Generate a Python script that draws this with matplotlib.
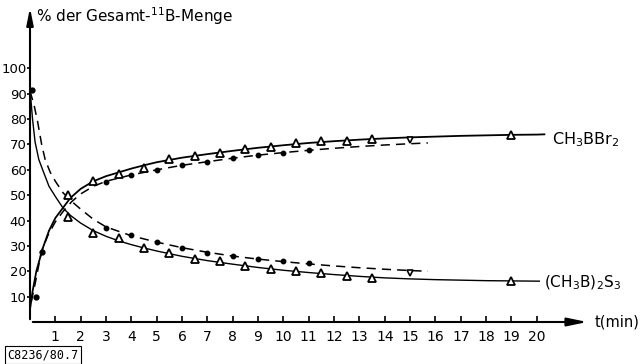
import matplotlib.pyplot as plt

# measured points, CH3BBr2 (rising) and (CH3B)2S3 (falling)
t_tri = [1.5, 2.5, 3.5, 4.5, 5.5, 6.5, 7.5, 8.5, 9.5, 10.5, 11.5, 12.5, 13.5, 19.0]
bbr_tri = [50.1, 55.7, 58.4, 60.9, 64.2, 65.5, 66.5, 68.1, 69.2, 70.5, 71.4, 71.2, 72.1, 73.8]
s3_tri = [41.5, 35.2, 33.0, 29.1, 27.3, 24.8, 24.0, 22.2, 20.9, 20.1, 19.2, 18.1, 17.5, 16.2]

t_dot = [3, 4, 5, 6, 7, 8, 9, 10, 11]
bbr_dot = [55.4, 58.0, 60.0, 61.9, 63.2, 64.6, 65.9, 66.5, 67.7]
s3_dot = [37.0, 34.3, 31.4, 29.3, 27.2, 26.0, 24.7, 24.2, 23.1]

t_extra = [0.07, 0.24, 0.46]
y_extra = [91.5, 10.0, 27.7]
t_inv = [15.0, 15.0]
y_inv = [71.8, 19.2]

# curves as drawn in the figure
t_fit = [0.0, 0.1, 0.25, 0.5, 0.75, 1.0, 1.3, 1.6, 2.0, 2.5, 3, 3.5, 4, 4.5, 5, 6, 7, 8, 9,
         10, 11, 12, 13, 14, 15, 16, 17, 18, 19, 20, 20.3]
bbr_fit = [5, 12, 20, 29, 36, 41, 45, 49, 52.5, 55.5, 57.5, 59, 60.5, 61.8, 63, 64.8, 66.2,
           67.5, 68.7, 69.7, 70.6, 71.3, 71.9, 72.4, 72.8, 73.1, 73.4, 73.6, 73.8, 73.9, 74]
t_fit2 = [0.0, 0.05, 0.1, 0.2, 0.35, 0.5, 0.75, 1.0, 1.3, 1.6, 2.0, 2.5, 3, 3.5, 4, 4.5, 5, 6, 7,
          8, 9, 10, 11, 12, 13, 14, 15, 16, 17, 18, 19, 20.1]
s3_fit = [92, 86, 80, 71, 64, 60, 53.5, 49.5, 45, 42, 39, 36, 33.8, 32, 30.5, 29.2, 28, 25.9,
          24.2, 22.8, 21.5, 20.4, 19.5, 18.7, 18, 17.4, 17, 16.7, 16.5, 16.3, 16.2, 16.1]

t_dash = [0.05, 0.2, 0.45, 0.7, 1.0, 1.3, 1.65, 2.0, 2.5, 3, 4, 5, 6, 7, 8, 9, 10, 11, 12,
          13, 14, 15, 15.7]
bbr_dash = [8, 15, 27.7, 34, 39.5, 43.5, 47.5, 50.5, 53.5, 55.5, 58, 60, 61.8, 63.2, 64.6,
            65.8, 66.8, 67.7, 68.5, 69.2, 69.8, 70.3, 70.6]
t_dash2 = [0.0, 0.15, 0.3, 0.46, 0.6, 0.8, 1.0, 1.3, 1.65, 2.0, 2.5, 3, 4, 5, 6, 7, 8, 9, 10,
           11, 12, 13, 14, 15, 15.7]
s3_dash = [91, 86, 79, 70, 64, 59, 55.5, 51, 47.5, 44.5, 40.5, 37.5, 34, 31.5, 29.3, 27.5, 26,
           24.8, 23.8, 22.9, 22.1, 21.4, 20.8, 20.3, 20.0]

xticks = list(range(1, 21))
yticks = list(range(10, 101, 10))

fig = plt.figure(figsize=(6.41, 3.64), dpi=100)
ax = fig.add_axes([30/641, 42/364, 560/641, 317/364])
ax.set_xlim(0, 22.1)
ax.set_ylim(0, 125)

ax.plot(t_fit, bbr_fit, color='k', lw=1.3)
ax.plot(t_fit2, s3_fit, color='k', lw=1.0)
ax.plot(t_dash, bbr_dash, color='k', lw=1.1, dashes=(6, 4))
ax.plot(t_dash2, s3_dash, color='k', lw=1.1, dashes=(6, 4))

ax.plot(t_tri, bbr_tri, '^', ms=5.5, mfc='white', mec='k', mew=1.3, ls='none')
ax.plot(t_tri, s3_tri, '^', ms=5.5, mfc='white', mec='k', mew=1.3, ls='none')
ax.plot(t_dot, bbr_dot, 'o', ms=3.2, color='k', ls='none')
ax.plot(t_dot, s3_dot, 'o', ms=3.2, color='k', ls='none')
ax.plot(t_extra, y_extra, 'o', ms=3.5, color='k', ls='none')
ax.plot(t_inv, y_inv, 'v', ms=4.5, mfc='white', mec='k', mew=1.2, ls='none')

for s in ['top', 'right', 'left', 'bottom']:
    ax.spines[s].set_visible(False)
ax.annotate('', xy=(1, 0), xytext=(0, 0), xycoords='axes fraction',
            arrowprops=dict(arrowstyle='-|>,head_length=1.2,head_width=0.25', color='k', lw=1.5))
ax.annotate('', xy=(0, 1), xytext=(0, 0), xycoords='axes fraction',
            arrowprops=dict(arrowstyle='-|>,head_length=1.0,head_width=0.2', color='k', lw=1.5))

ax.set_xticks(xticks)
ax.set_xticklabels([str(v) for v in xticks])
ax.set_yticks(yticks)
ax.set_yticklabels([str(v) for v in yticks])
ax.tick_params(axis='x', direction='in', length=4, width=1.2, labelsize=10, pad=6)
ax.tick_params(axis='y', direction='out', length=2, width=1.2, labelsize=9.5, pad=0.5)

ax.text(20.6, 71.8, r'CH$_3$BBr$_2$', fontsize=11.5, va='center', ha='left')
ax.text(20.3, 15.4, r'(CH$_3$B)$_2$S$_3$', fontsize=11, va='center', ha='left')
fig.text(595/641, 1 - 322/364, 't(min)', fontsize=10.5, va='center', ha='left')
fig.text(36/641, 1 - 16/364, r'% der Gesamt-$^{11}$B-Menge', fontsize=11, va='center', ha='left')
fig.text(7/641, 1 - 355/364, 'C8236/80.7', fontsize=8.5, va='center', ha='left',
         family='DejaVu Sans Mono',
         bbox=dict(boxstyle='square,pad=0.2', fc='white', ec='k', lw=0.8))

fig.savefig('out.png', dpi=100)
